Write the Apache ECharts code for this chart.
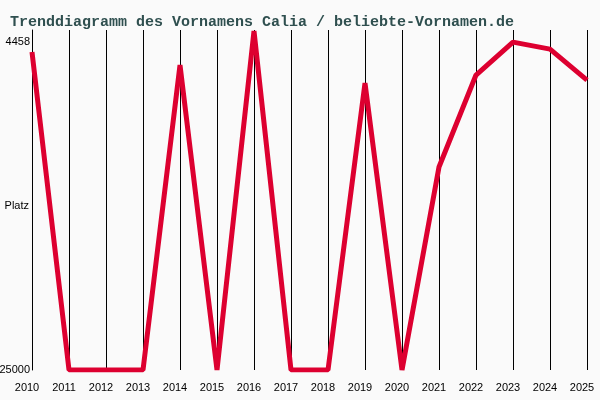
<!DOCTYPE html>
<html>
<head>
<meta charset="utf-8">
<script src="https://cdn.jsdelivr.net/npm/echarts@6/dist/echarts.min.js"></script>
<style>
  html, body { margin: 0; padding: 0; background: #fafafa; }
  #chart { width: 600px; height: 400px; }
</style>
</head>
<body>
<div id="chart"></div>
<script>
// Daten
var jahre = ['2010', '2011', '2012', '2013', '2014', '2015', '2016', '2017',
             '2018', '2019', '2020', '2021', '2022', '2023', '2024', '2025'];
var platz = [5080, 25000, 25000, 25000, 5900, 25000, 3770, 25000,
             25000, 7030, 25000, 12280, 6520, 4458, 4900, 6840];
var yLabels = [4458, 25000];

(function(){
    var myChart = echarts.init(document.getElementById('chart'));
    var option = {
        backgroundColor: '#fafafa',
        animation: false,
        title: {
            text: 'Trenddiagramm des Vornamens Calia / beliebte-Vornamen.de',
            left: 5,
            top: 10,
            textStyle: {
                fontFamily: 'Liberation Mono',
                fontWeight: 'bold',
                fontSize: 15,
                color: '#2f4f4f'
            }
        },
        grid: { left: 32, right: 13, top: 30, bottom: 30, containLabel: false, outerBoundsMode: 'none' },
        xAxis: {
            type: 'category',
            data: jahre,
            boundaryGap: false,
            axisLine: { show: false },
            axisTick: { show: false },
            axisLabel: {
                margin: 12,
                padding: [0, 10, 0, 0],
                color: '#000',
                fontFamily: 'Liberation Sans',
                fontSize: 11,
                interval: 0
            },
            splitLine: { show: true, lineStyle: { color: '#000', width: 1 } }
        },
        yAxis: {
            type: 'value',
            inverse: true,
            min: 3700,
            max: 25000,
            name: 'Platz',
            nameLocation: 'middle',
            nameRotate: 0,
            nameGap: 3,
            nameMoveOverlap: false,
            nameTextStyle: { color: '#000', fontFamily: 'Liberation Sans', fontSize: 11, align: 'right', verticalAlign: 'top' },
            axisLine: { show: true, lineStyle: { color: '#000' } },
            axisTick: { show: false },
            splitLine: { show: false },
            axisLabel: {
                customValues: yLabels,
                formatter: function (v) { return String(v); },
                margin: 2,
                color: '#000',
                fontFamily: 'Liberation Sans',
                fontSize: 11
            }
        },
        series: [{
            type: 'line',
            data: platz,
            showSymbol: false,
            lineStyle: { color: '#dd0030', width: 5 },
            z: 3
        }]
    };
    myChart.setOption(option);
})();
</script>
</body>
</html>
